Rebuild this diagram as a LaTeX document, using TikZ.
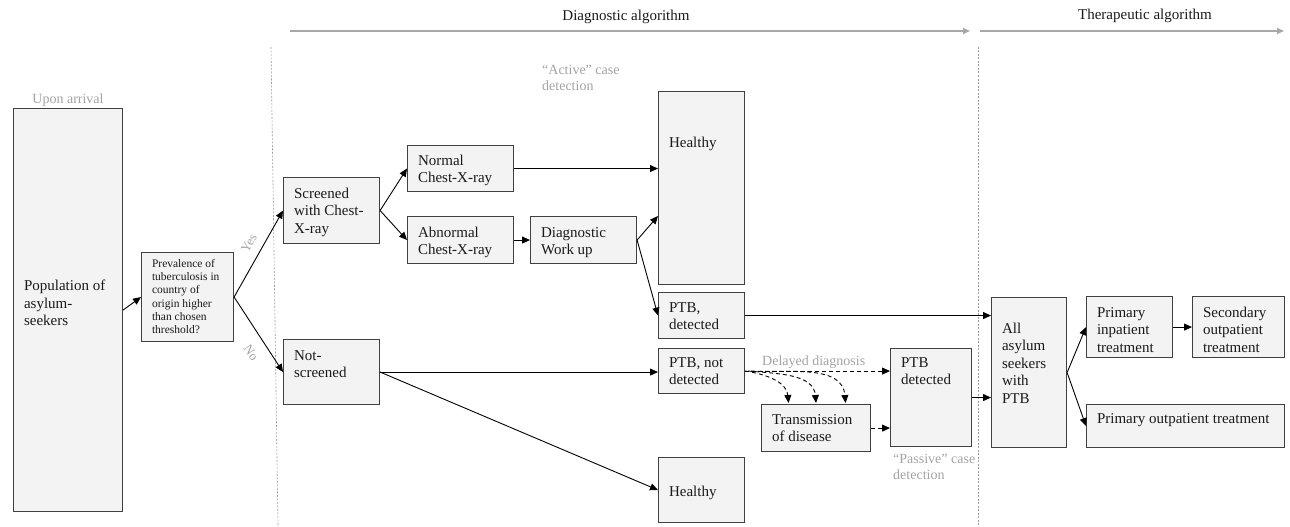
\documentclass[tikz,border=0pt]{standalone}
\usepackage{fontspec}
\setmainfont{Liberation Serif}
\usetikzlibrary{arrows.meta,calc}
\definecolor{boxfill}{HTML}{F3F3F3}
\definecolor{boxline}{HTML}{404040}
\definecolor{txt}{HTML}{1A1A1A}
\definecolor{graytxt}{HTML}{A3A3A3}
\definecolor{hdrline}{HTML}{A8A8A8}
\definecolor{sepline}{HTML}{9A9A9A}
\newcommand\bxt[4]{\parbox[c][#1][t]{#2}{\raggedright\vspace*{#3}\strut#4}}
\tikzset{
  box/.style={draw=boxline, fill=boxfill, line width=1.1pt, inner xsep=10.5pt, inner ysep=0pt,
    anchor=north west, text=txt, font=\fontsize{15}{17.5}\selectfont},
  smallbox/.style={box, font=\fontsize{11.5}{13.2}\selectfont},
  arr/.style={draw=black, line width=0.9pt, -{Triangle[length=8pt,width=7pt]}},
  darr/.style={arr, dash pattern=on 4pt off 3pt},
  hdr/.style={draw=hdrline, line width=1.8pt, -{Triangle[length=7pt,width=6pt]}},
  hdrtext/.style={text=txt, font=\fontsize{15}{17.5}\selectfont, inner sep=0pt},
  grey/.style={text=graytxt, font=\fontsize{14}{16}\selectfont, inner sep=0pt, align=left},
  yn/.style={text=graytxt, font=\fontsize{13}{15}\selectfont, inner sep=0pt},
  sep/.style={draw=sepline, line width=0.6pt, dash pattern=on 2pt off 1.5pt}
}
\begin{document}
\begin{tikzpicture}[x=1pt,y=-1pt]
\useasboundingbox (0,0) rectangle (1290,527);
% header
\coordinate (d0) at (290,31); \coordinate (d1) at (970,31);
\coordinate (t0) at (980,31); \coordinate (t1) at (1284,31);
\draw[hdr] (d0) -- (d1);
\draw[hdr] (t0) -- (t1);
\node[hdrtext] (hd) at (626,17) {Diagnostic algorithm};
\node[hdrtext] (ht) at (1145,16) {Therapeutic algorithm};
% separators
\coordinate (s0) at (271,47); \coordinate (s1) at (278,527);
\coordinate (s2) at (978,47); \coordinate (s3) at (978,527);
\draw[sep] (s0) -- (s1);
\draw[sep] (s2) -- (s3);
% boxes
\node[box] (pop) at (13,108) {\bxt{403pt}{88pt}{170pt}{Population of\\asylum-\\seekers}};
\node[smallbox] (prev) at (141,252) {\bxt{89pt}{71pt}{5.8pt}{Prevalence of\\tuberculosis in\\country of\\origin higher\\than chosen\\threshold?}};
\node[box] (scr) at (283,177) {\bxt{66pt}{75pt}{8.5pt}{Screened\\with Chest-\\X-ray}};
\node[box] (norm) at (407,145) {\bxt{46pt}{85pt}{7.5pt}{Normal\\Chest-X-ray}};
\node[box] (abn) at (407,216) {\bxt{47pt}{85pt}{8.5pt}{Abnormal\\Chest-X-ray}};
\node[box] (work) at (530,216) {\bxt{47pt}{85pt}{8.5pt}{Diagnostic\\Work up}};
\node[box] (h1) at (658,91) {\bxt{193pt}{65pt}{43.5pt}{Healthy}};
\node[box] (ptbd) at (658,292) {\bxt{46pt}{65pt}{7.5pt}{PTB,\\detected}};
\node[box] (ptbnd) at (658,348) {\bxt{45pt}{65pt}{6.5pt}{PTB, not\\detected}};
\node[box] (trans) at (761,404) {\bxt{47pt}{88pt}{7.5pt}{Transmission\\of disease}};
\node[box] (ptbp) at (890,348) {\bxt{98pt}{60pt}{6.5pt}{PTB\\detected}};
\node[box] (h2) at (658,457) {\bxt{65pt}{65pt}{26.5pt}{Healthy}};
\node[box] (nscr) at (283,339) {\bxt{65pt}{75pt}{8.5pt}{Not-\\screened}};
\node[box] (all) at (991,297) {\bxt{150pt}{54pt}{23.5pt}{All\\asylum\\seekers\\with\\PTB}};
\node[box] (inp) at (1086,296) {\bxt{61pt}{65pt}{8.5pt}{Primary\\inpatient\\treatment}};
\node[box] (sec) at (1192,296) {\bxt{61pt}{71pt}{8.5pt}{Secondary\\outpatient\\treatment}};
\node[box] (outp) at (1086,404) {\bxt{43pt}{177pt}{6.5pt}{Primary outpatient treatment}};
% grey labels
\node[grey, anchor=base] (upon) at (68,103) {Upon arrival};
\node[grey, anchor=north west] (act) at (542,65) {“Active” case\\detection};
\node[grey, anchor=north west] (pas) at (893,454) {“Passive” case\\detection};
\node[grey, anchor=west] (dd) at (762,362) {Delayed diagnosis};
\node[yn, rotate=60] (yes) at (249,243) {Yes};
\node[yn, rotate=-56] (no) at (251,353) {No};
% connectors
\draw[arr] (pop.east) -- (prev.west);
\draw[arr] (prev.east) -- (scr.west);
\draw[arr] (prev.east) -- (nscr.west);
\draw[arr] (scr.east) -- (norm.west);
\draw[arr] (scr.east) -- (abn.west);
\draw[arr] (norm.east) -- (norm.east -| h1.west);
\draw[arr] (abn.east) -- (work.west);
\draw[arr] (work.east) -- (work.north -| h1.west);
\draw[arr] (work.east) -- (ptbd.west);
\draw[arr] (ptbd.east) -- (ptbd.east -| all.west);
\draw[arr] (nscr.east) -- (nscr.east -| ptbnd.west);
\draw[arr] (nscr.east) -- (h2.west);
\draw[darr] (ptbnd.east) -- (ptbnd.east -| ptbp.west);
\coordinate (c1) at ($(trans.north)+(-27.5,-1)$);
\coordinate (c2) at ($(trans.north)+(0,-1)$);
\coordinate (c3) at ($(trans.north)+(29.5,-1)$);
\draw[darr] (ptbnd.east) to[out=-8,in=95] (c1);
\draw[darr] ($(ptbnd.east)+(3,0)$) to[out=-5,in=95] (c2);
\draw[darr] ($(ptbnd.east)+(6,0)$) to[out=-3,in=95] (c3);
\draw[darr] (trans.east) -- (trans.east -| ptbp.west);
\draw[arr] (ptbp.east) -- (ptbp.east -| all.west);
\draw[arr] (all.east) -- (inp.west);
\draw[arr] (all.east) -- (outp.west);
\draw[arr] (inp.east) -- (sec.west);
\end{tikzpicture}
\end{document}
